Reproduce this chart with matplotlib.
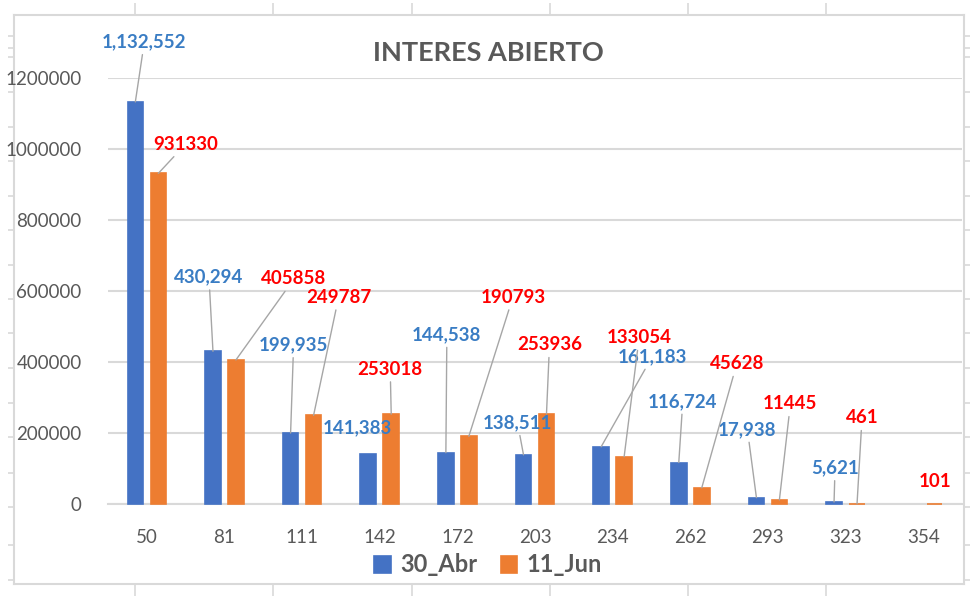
import matplotlib
matplotlib.use("Agg")
import matplotlib.pyplot as plt
import numpy as np

plt.rcParams['font.family'] = ['Lato', 'DejaVu Sans']

# datos
strikes = ["50", "81", "111", "142", "172", "203", "234", "262", "293", "323", "354"]
abr_30 = [1132552, 430294, 199935, 141383, 144538, 138511, 161183, 116724, 17938, 5621, None]
jun_11 = [931330, 405858, 249787, 253018, 190793, 253936, 133054, 45628, 11445, 461, 101]

# desplazamiento de las etiquetas (pixeles) respecto a la punta de cada barra
off_abr = [(9, 60), (-4, 74), (3, 88), (-11, 26), (1, 118), (-6, 32),
           (51, 90), (4, 61), (-9, 68), (1, 34), None]
off_jun = [(27, 29), (58, 81), (25, 118), (-1, 45), (44, 139), (3, 69),
           (15, 119), (35, 124), (11, 96), (5, 86), (0, 22)]
no_leader_abr = {3}
no_leader_jun = {10}

BLUE = "#4472C4"
ORANGE = "#ED7D31"
BLUE_TXT = "#3A7DC4"
RED_TXT = "#FF0000"
GRID = "#D9D9D9"
GREY_TXT = "#595959"

W, H = 980, 596
fig = plt.figure(figsize=(W / 100, H / 100), dpi=100)

# marco exterior con marcas
fr = fig.add_axes([14 / W, 1 - 584 / H, 950 / W, 569 / H])
fr.set_facecolor("none")
fr.set_xlim(14, 964)
fr.set_ylim(584, 15)
for s in fr.spines.values():
    s.set_color(GRID)
    s.set_linewidth(1.5)
fr.set_xticks([135, 273, 412, 550, 688, 826])
fr.set_yticks([36, 48, 57, 92, 127, 161, 196, 230, 265, 299, 333, 368, 403, 437, 473, 507, 545, 580])
fr.tick_params(which="both", direction="out", color=GRID, width=1.2, length=4,
               top=True, bottom=True, left=True, right=True,
               labeltop=False, labelbottom=False, labelleft=False, labelright=False)
fr.tick_params(axis="x", which="both", length=9)
fr.set_zorder(0)

ax = fig.add_axes([108 / W, (H - 504) / H, 854 / W, 426 / H])
ax.set_facecolor("none")
ax.set_zorder(1)

x = np.arange(len(strikes))
bw = 0.2
sh = 0.148
abr_vals = [v if v is not None else 0 for v in abr_30]
b1 = ax.bar(x - sh, abr_vals, bw, color=BLUE, edgecolor=BLUE, linewidth=1.2, zorder=3)
b2 = ax.bar(x + sh, jun_11, bw, color=ORANGE, edgecolor=ORANGE, linewidth=1.2, zorder=3)
for i, p in enumerate(b1.patches):
    if abr_30[i] is None:
        p.set_visible(False)
    p.set_clip_on(False)
for p in b2.patches:
    p.set_clip_on(False)

ax.set_xlim(-0.5, len(strikes) - 0.5)
ax.set_ylim(0, 1200000)
ax.set_yticks(np.arange(0, 1200001, 200000))
ax.set_yticklabels([str(v) for v in range(0, 1200001, 200000)])
ax.set_xticks(x)
ax.set_xticklabels(strikes)
ax.grid(axis="y", color=GRID, linewidth=1.5, zorder=0)
for s in ["top", "right", "left"]:
    ax.spines[s].set_visible(False)
ax.spines["bottom"].set_color(GRID)
ax.spines["bottom"].set_linewidth(1.5)
ax.spines["bottom"].set_zorder(2)
ax.tick_params(axis="both", length=0, labelsize=13.5, colors=GREY_TXT)
ax.tick_params(axis="x", pad=18)
ax.tick_params(axis="y", pad=19)

leader = dict(arrowstyle="-", color="#A6A6A6", lw=1, shrinkA=1, shrinkB=0)

for i, v in enumerate(abr_30):
    if v is None:
        continue
    dx, dy = off_abr[i]
    ax.annotate(f"{v:,}", xy=(x[i] - sh, v), xytext=(dx, dy), textcoords="offset pixels",
                ha="center", va="center", color=BLUE_TXT, fontsize=13.5, fontweight="bold",
                arrowprops=None if i in no_leader_abr else leader, zorder=5,
                annotation_clip=False)

for i, v in enumerate(jun_11):
    dx, dy = off_jun[i]
    ax.annotate(f"{v}", xy=(x[i] + sh, v), xytext=(dx, dy), textcoords="offset pixels",
                ha="center", va="center", color=RED_TXT, fontsize=13.5, fontweight="bold",
                arrowprops=None if i in no_leader_jun else leader, zorder=5,
                annotation_clip=False)

fig.text(488 / W, 1 - 53 / H, "INTERES ABIERTO", ha="center", va="center",
         fontsize=19.5, fontweight="bold", color=GREY_TXT)

leg = ax.legend(["30_Abr", "11_Jun"], loc="center", bbox_to_anchor=(488 / W, 1 - 565 / H),
                bbox_transform=fig.transFigure, ncol=2, frameon=False,
                handlelength=0.7, handleheight=0.7, handletextpad=0.4, columnspacing=1.0,
                prop={"size": 17, "weight": "bold"})
for t in leg.get_texts():
    t.set_color(GREY_TXT)

fig.savefig("out.png", dpi=100, facecolor="white")
